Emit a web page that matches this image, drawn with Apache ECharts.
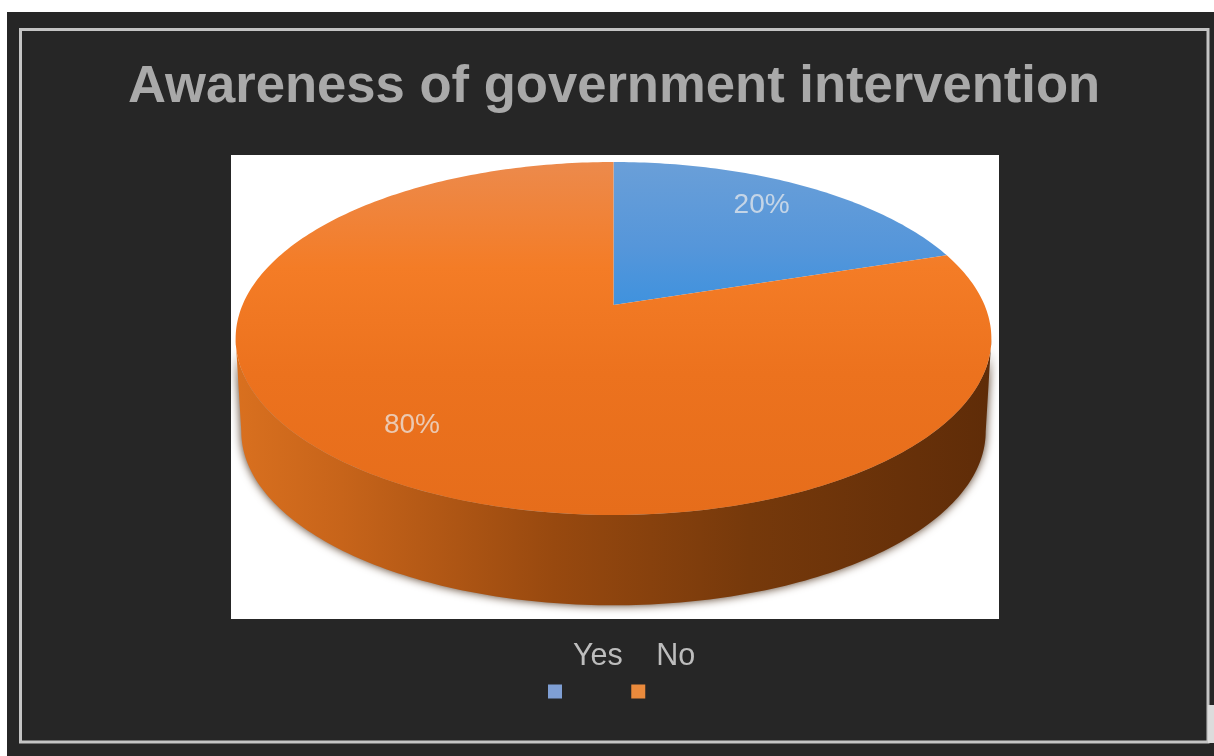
<!DOCTYPE html>
<html>
<head>
<meta charset="utf-8">
<title>Awareness of government intervention</title>
<style>html,body{margin:0;padding:0;background:#fff}#chart{width:1214px;height:756px}</style>
<script src="https://cdn.jsdelivr.net/npm/echarts@6/dist/echarts.min.js"></script>
</head>
<body>
<div id="chart"></div>
<script>
// Survey answers
const categories = ['Yes', 'No'];
const shares = [20, 80];
const legendColors = ['#7f9fd4', '#ea8a3c'];

// Tilted-disc projection: a point on the unit circle is mapped onto the page
const disc = { cx: 613.5, apexY: 305, k: 371, a: -112.25, c: 0.1898, depth: 91, shrink: 0.985 };
const wallFill = {
  type: 'linear', x: 0, y: 0, x2: 1, y2: 0,
  colorStops: [
    { offset: 0, color: '#d9701f' }, { offset: 0.14, color: '#c7641a' },
    { offset: 0.42, color: '#98490f' }, { offset: 0.68, color: '#76390b' },
    { offset: 1, color: '#5f2c08' }
  ]
};
const faceFills = [
  { type: 'linear', x: 0, y: 0, x2: 0, y2: 1, colorStops: [
    { offset: 0, color: '#6a9fd8' }, { offset: 0.6, color: '#5596da' }, { offset: 1, color: '#3f92de' }] },
  { type: 'linear', x: 0, y: 0, x2: 0, y2: 1, colorStops: [
    { offset: 0, color: '#ec8a4c' }, { offset: 0.3, color: '#f47c26' }, { offset: 0.6, color: '#ec721e' }, { offset: 1, color: '#e66d1b' }] }
];

function project(theta, r) {
  const u = r * Math.sin(theta), v = r * Math.cos(theta);
  const d = 1 + disc.c * v;
  return [disc.cx + disc.k * u / d, (disc.a * v + disc.apexY) / d];
}
function lower(p) {
  return [disc.cx + (p[0] - disc.cx) * disc.shrink, disc.apexY + (p[1] - disc.apexY) * disc.shrink + disc.depth + 2.5];
}
function arc(from, to) {
  const pts = [], n = Math.max(2, Math.ceil((to - from) * 60));
  for (let i = 0; i <= n; i++) pts.push(project(from + (to - from) * i / n, 1));
  return pts;
}

const total = shares.reduce((s, v) => s + v, 0);
const frontStart = Math.acos(-disc.c), frontEnd = 2 * Math.PI - frontStart;

function sliceRenderer(index) {
  return function (params, api) {
    const before = shares.slice(0, index).reduce((s, v) => s + v, 0);
    const start = before / total * 2 * Math.PI;
    const end = start + api.value(0) / total * 2 * Math.PI;
    const children = [];
    const wFrom = Math.max(start, frontStart), wTo = Math.min(end, frontEnd);
    if (wTo > wFrom) {
      const top = arc(wFrom, wTo);
      children.push({
        type: 'polygon',
        shape: { points: top.concat(top.slice().reverse().map(lower)) },
        style: { fill: wallFill, shadowBlur: 10, shadowColor: 'rgba(60,30,6,0.9)' }
      });
    }
    children.push({
      type: 'polygon',
      shape: { points: [project(0, 0)].concat(arc(start, end)) },
      style: { fill: faceFills[index] }
    });
    const mid = project((start + end) / 2, 0.79);
    children.push({
      type: 'text',
      style: {
        x: mid[0] - 5.5, y: mid[1] - 3, text: Math.round(api.value(0) / total * 100) + '%',
        align: 'center', verticalAlign: 'middle',
        font: '28px "Liberation Sans"', fill: 'rgba(236,236,236,0.72)'
      }
    });
    return { type: 'group', children };
  };
}

const chart = echarts.init(document.getElementById('chart'), null, { renderer: 'canvas' });
chart.setOption({
  animation: false,
  backgroundColor: '#ffffff',
  title: {
    text: 'Awareness of government intervention',
    left: 128, top: 61, padding: 0,
    textStyle: { fontFamily: 'Liberation Sans', fontWeight: 'bold', fontSize: 52.6, color: '#a9a9a9' }
  },
  legend: {
    left: 548, top: 641, icon: 'rect', itemWidth: 14, itemHeight: 14, itemGap: 8.5, padding: 0,
    selectedMode: false,
    data: categories.map((name, i) => ({ name, itemStyle: { color: legendColors[i] } })),
    formatter: name => '{t|' + name + '}',
    textStyle: {
      rich: { t: { fontFamily: 'Liberation Sans', fontSize: 30.5, color: '#bdbdbd', padding: [0, 0, 70, 6] } }
    }
  },
  graphic: [
    { type: 'rect', z: -10, shape: { x: 7, y: 12, width: 1207, height: 744 }, style: { fill: '#262626' } },
    { type: 'rect', z: -9, shape: { x: 20.5, y: 29.5, width: 1187.5, height: 712.5 }, style: { fill: 'none', stroke: '#c4c4c4', lineWidth: 3 } },
    { type: 'rect', z: -9, shape: { x: 1208, y: 705, width: 6, height: 38 }, style: { fill: '#dcdcdc' } },
    { type: 'rect', z: -9, shape: { x: 231, y: 155, width: 768, height: 464 }, style: { fill: '#ffffff' } }
  ],
  series: categories.map((name, i) => ({
    type: 'custom',
    name,
    coordinateSystem: 'none',
    silent: true,
    itemStyle: { color: legendColors[i] },
    renderItem: sliceRenderer(i),
    encode: { value: 0 },
    data: [[shares[i]]]
  }))
});
</script>
</body>
</html>
